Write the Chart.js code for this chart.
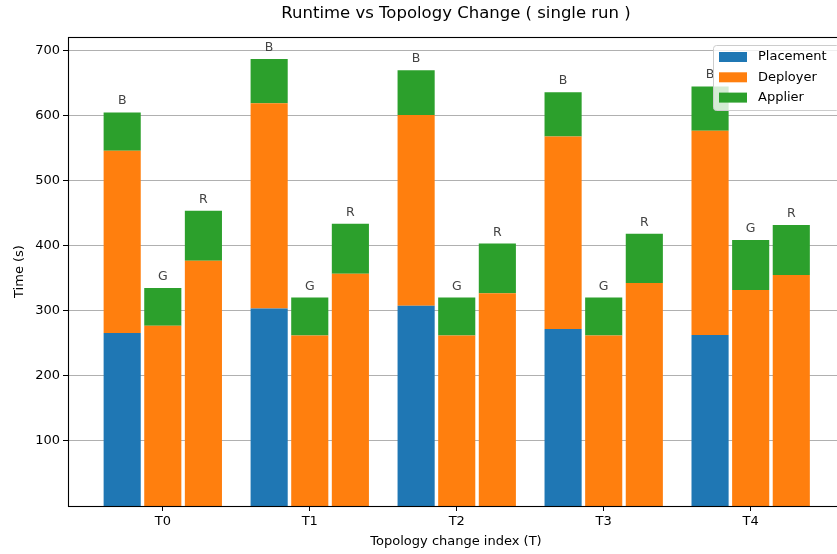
<!DOCTYPE html>
<html>
<head>
<meta charset="utf-8">
<script src="https://cdn.jsdelivr.net/npm/chart.js@4/dist/chart.umd.min.js"></script>
<style>
  html, body { margin: 0; padding: 0; background: #fff; }
  #wrap { width: 837px; height: 554px; overflow: hidden; position: relative; }
  canvas { display: block; }
</style>
</head>
<body>
<div id="wrap"><canvas id="runtimeChart" width="847" height="554"></canvas></div>
<script>
// Topology change indices
const labels = ["T0", "T1", "T2", "T3", "T4"];
const stackNames = ["B", "G", "R"];

// Seconds per phase
const placementB = [266, 303.5, 308, 272, 263];
const deployerB = [280, 315.5, 293, 296, 314];
const applierB = [59, 68, 69, 68, 68];

const deployerG = [277, 262, 262, 262, 332];
const applierG = [58, 58.5, 58.5, 58.5, 77];

const deployerR = [377, 357, 327, 343, 355];
const applierR = [77, 77, 76.5, 75.5, 77];

const yTicks = [100, 200, 300, 400, 500, 600, 700];

const COLORS = {
  blue: "#1f77b4",
  orange: "#ff7f0e",
  green: "#2ca02c",
};

const FONT = "'DejaVu Sans', sans-serif";

function points(values) {
  return values.map(function (v, i) {
    return { x: i, y: v };
  });
}

function makeSet(label, color, stack, values) {
  return {
    label: label,
    stack: stack,
    backgroundColor: color,
    borderWidth: 0,
    data: points(values),
    categoryPercentage: 0.829,
    barPercentage: 0.914,
  };
}

const datasets = [
  makeSet("Placement", COLORS.blue, "B", placementB),
  makeSet("Deployer", COLORS.orange, "B", deployerB),
  makeSet("Applier", COLORS.green, "B", applierB),
  makeSet("Deployer", COLORS.orange, "G", deployerG),
  makeSet("Applier", COLORS.green, "G", applierG),
  makeSet("Deployer", COLORS.orange, "R", deployerR),
  makeSet("Applier", COLORS.green, "R", applierR),
];

// Title centred over the plot, frame, stack letters and legend box
const decorations = {
  id: "decorations",
  afterDatasetsDraw(chart) {
    const ctx = chart.ctx;
    ctx.save();
    ctx.font = "12.5px " + FONT;
    ctx.fillStyle = "#444";
    ctx.textAlign = "center";
    ctx.textBaseline = "alphabetic";
    chart.data.datasets.forEach(function (ds, di) {
      if (ds.label !== "Applier") return;
      const meta = chart.getDatasetMeta(di);
      meta.data.forEach(function (bar) {
        ctx.fillText(ds.stack, bar.x, bar.y - 8);
      });
    });
    ctx.restore();
  },
  afterDraw(chart) {
    const ctx = chart.ctx;
    const area = chart.chartArea;
    ctx.save();

    // title
    ctx.font = "16.5px " + FONT;
    ctx.fillStyle = "#000";
    ctx.textAlign = "center";
    ctx.textBaseline = "middle";
    ctx.fillText("Runtime vs Topology Change ( single run )", (area.left + area.right) / 2, 14);

    // frame
    ctx.strokeStyle = "#000";
    ctx.lineWidth = 1.1;
    ctx.strokeRect(area.left + 0.5, area.top + 0.5, area.right - area.left, area.bottom - area.top);

    // legend
    const lx = 713, ly = 45, lw = 126, lh = 65;
    ctx.beginPath();
    ctx.roundRect(lx + 0.5, ly + 0.5, lw, lh, 3);
    ctx.fillStyle = "rgba(255,255,255,0.8)";
    ctx.fill();
    ctx.strokeStyle = "#cccccc";
    ctx.lineWidth = 1;
    ctx.stroke();

    const entries = [
      ["Placement", COLORS.blue],
      ["Deployer", COLORS.orange],
      ["Applier", COLORS.green],
    ];
    ctx.font = "13px " + FONT;
    ctx.textAlign = "left";
    ctx.textBaseline = "middle";
    entries.forEach(function (e, i) {
      const cy = 57 + i * 20.3;
      ctx.fillStyle = e[1];
      ctx.fillRect(719, cy - 5, 28, 10);
      ctx.fillStyle = "#000";
      ctx.fillText(e[0], 758, cy);
    });
    ctx.restore();
  },
};

const ctx = document.getElementById("runtimeChart").getContext("2d");
const chart = new Chart(ctx, {
  type: "bar",
  data: { datasets: datasets },
  plugins: [decorations],
  options: {
    responsive: false,
    animation: false,
    layout: { padding: { top: 37, right: 3, left: 0, bottom: 0 } },
    plugins: {
      legend: { display: false },
      title: { display: false },
      tooltip: { enabled: false },
    },
    scales: {
      x: {
        type: "linear",
        min: -0.645,
        max: 4.635,
        offset: false,
        afterFit: function (scale) {
          scale.height = 48;
        },
        afterBuildTicks: function (scale) {
          scale.ticks = labels.map(function (l, i) {
            return { value: i };
          });
        },
        ticks: {
          autoSkip: false,
          maxRotation: 0,
          padding: 3,
          color: "#000",
          font: { family: FONT, size: 13 },
          callback: function (value) {
            return labels[value];
          },
        },
        grid: {
          offset: false,
          drawOnChartArea: false,
          tickLength: 5,
          tickColor: "#000",
          tickWidth: 1,
        },
        border: { display: false },
        title: {
          display: true,
          text: "Topology change index (T)",
          color: "#000",
          font: { family: FONT, size: 13 },
          padding: { top: 0, bottom: 5 },
        },
      },
      y: {
        stacked: true,
        min: 0,
        max: 721,
        z: 1,
        afterFit: function (scale) {
          scale.width = 68;
        },
        afterBuildTicks: function (scale) {
          scale.ticks = yTicks.map(function (v) {
            return { value: v };
          });
        },
        ticks: {
          padding: 3,
          color: "#000",
          font: { family: FONT, size: 13 },
        },
        grid: {
          color: "#b0b0b0",
          lineWidth: 1,
          tickLength: 5,
          tickColor: "#000",
          tickWidth: 1,
        },
        border: { display: false },
        title: {
          display: true,
          text: "Time (s)",
          color: "#000",
          font: { family: FONT, size: 13 },
          padding: { top: 12, bottom: 0 },
        },
      },
    },
  },
});
</script>
</body>
</html>
